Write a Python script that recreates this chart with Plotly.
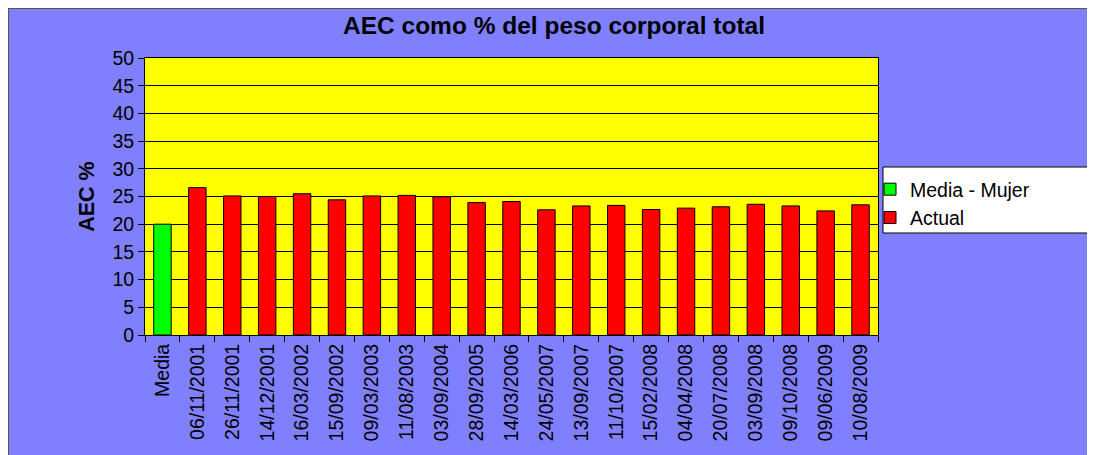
import plotly.graph_objects as go

# ---- data ----
title_text = "AEC como % del peso corporal total"
y_title = "AEC %"
media_label = ["Media"]
media_values = [20.0]
dates = ["06/11/2001", "26/11/2001", "14/12/2001", "16/03/2002", "15/09/2002",
         "09/03/2003", "11/08/2003", "03/09/2004", "28/09/2005", "14/03/2006",
         "24/05/2007", "13/09/2007", "11/10/2007", "15/02/2008", "04/04/2008",
         "20/07/2008", "03/09/2008", "09/10/2008", "09/06/2009", "10/08/2009"]
actual_values = [26.6, 25.1, 25.0, 25.5, 24.4,
                 25.1, 25.2, 24.95, 23.9, 24.1,
                 22.6, 23.3, 23.4, 22.65, 22.9,
                 23.15, 23.6, 23.3, 22.4, 23.5]
y_ticks = [0, 5, 10, 15, 20, 25, 30, 35, 40, 45, 50]

# ---- layout geometry (screen pixels; page body has an 8px margin) ----
W, H = 1095, 455
OFF = 8
L, R, T, B = 145, 878, 58, 335
pw, ph = R - L, B - T

def px(x):
    return (x - L) / pw

def py(y):
    return (B - y) / ph

font_family = "Liberation Sans, Arial, sans-serif"

fig = go.Figure()
fig.add_trace(go.Bar(
    x=media_label, y=media_values, name="Media - Mujer",
    marker=dict(color="#00FF00", line=dict(color="black", width=1)),
    width=0.5,
))
fig.add_trace(go.Bar(
    x=dates, y=actual_values, name="Actual",
    marker=dict(color="#FF0000", line=dict(color="black", width=1)),
    width=0.5,
))

shapes = [
    # chart border
    dict(type="rect", xref="paper", yref="paper", layer="below",
         x0=px(OFF), x1=px(OFF + W), y0=py(OFF + H), y1=py(OFF),
         fillcolor="rgba(0,0,0,0)", line=dict(color="#555555", width=2)),
    # legend box
    dict(type="rect", xref="paper", yref="paper", layer="above",
         x0=px(883), x1=px(1093), y0=py(233), y1=py(167),
         fillcolor="white", line=dict(color="black", width=1)),
]

fig.update_layout(
    width=W, height=H,
    margin=dict(l=L - OFF, r=W - (R - OFF), t=T - OFF, b=H - (B - OFF), pad=0),
    paper_bgcolor="#8080FF",
    plot_bgcolor="#FFFF00",
    barmode="overlay",
    font=dict(family=font_family, color="black", size=19),
    title=dict(text="<b>" + title_text + "</b>", x=px(554), xref="paper",
               xanchor="center", y=1 - (25 - OFF) / H, yanchor="middle",
               font=dict(size=24.5, family=font_family, color="black")),
    shapes=shapes,
    showlegend=True,
    legend=dict(x=px(870), y=py(170), xanchor="left", yanchor="top",
                bgcolor="rgba(0,0,0,0)", borderwidth=0,
                font=dict(size=19.5, family=font_family, color="black"),
                itemwidth=30, traceorder="normal"),
    xaxis=dict(
        type="category",
        categoryorder="array", categoryarray=media_label + dates,
        tickangle=-90, tickson="boundaries", ticks="outside", ticklen=6,
        tickcolor="black", showline=True, linecolor="black", linewidth=1,
        mirror=True, showgrid=False, tickfont=dict(size=19.5),
    ),
    yaxis=dict(
        range=[0, 50], tickvals=y_ticks, ticks="outside", ticklen=6,
        tickcolor="black", showline=True, linecolor="black", linewidth=1,
        mirror=True, showgrid=True, gridcolor="black", gridwidth=1,
        zeroline=False, tickfont=dict(size=19.5),
        title=dict(text="<b>" + y_title + "</b>", standoff=11,
                   font=dict(size=21.5)),
    ),
)

fig.write_html("out.html")
